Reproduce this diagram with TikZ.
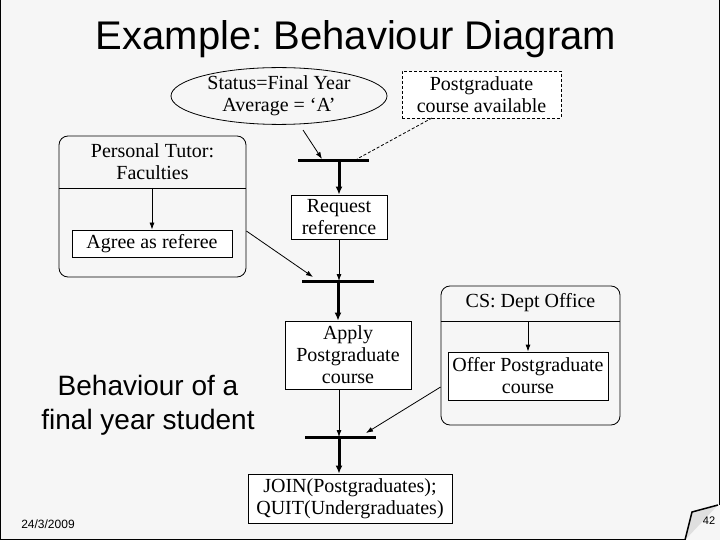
\documentclass[tikz,border=0pt]{standalone}
\usepackage{fontspec}
\setmainfont{Liberation Serif}
\setsansfont{Liberation Sans}
\usetikzlibrary{arrows.meta,shapes.geometric}
\frenchspacing

\begin{document}
\begin{tikzpicture}[x=1pt,y=-1pt,line width=0.8pt,
    txt/.style={align=center,inner sep=0pt,font=\fontsize{20}{22}\selectfont},
    box/.style={txt,draw,fill=white},
    lane/.style={draw,rounded corners=9pt,inner sep=0pt},
    bar/.style={line width=3pt},
    flow/.style={-{Latex[length=7pt,width=5pt]}},
    flowbold/.style={line width=3pt,-{Latex[length=8pt,width=7pt]}}]
    \useasboundingbox (0,0) rectangle (720,540);
    \fill[gray!7] (0,0) rectangle (720,540);

    \coordinate (b1w) at (298,161);
    \coordinate (b1e) at (369,161);
    \coordinate (b1a) at (322,159);
    \coordinate (b1d) at (357,159);
    \coordinate (b2w) at (302,281);
    \coordinate (b2e) at (374,281);
    \coordinate (b2a) at (313,277);
    \coordinate (b2o) at (338,281);
    \coordinate (b3w) at (305,437);
    \coordinate (b3e) at (376,437);
    \coordinate (b3a) at (366,433);
    \coordinate (b3o) at (339,437);
    \coordinate (s1) at (303,130);
    \coordinate (a1) at (432,118);
    \coordinate (tdiv) at (0,188);
    \coordinate (odiv) at (0,321);

    \node[font=\sffamily\fontsize{40}{44}\selectfont,anchor=base] (title) at (356,50) {Example: Behaviour Diagram};

    \node[txt,draw,ellipse,minimum width=216pt,minimum height=54pt] (status) at (279,96) {Status=Final Year\\Average = ‘A’};
    \node[box,dashed,dash pattern=on 3pt off 2pt,minimum width=159pt,minimum height=47pt] (avail) at (481.5,94.5) {Postgraduate\\course available};

    \node[lane,minimum width=187pt,minimum height=141pt] (tutor) at (152.5,206.5) {};
    \node[txt] (tutorname) at (152.5,162) {Personal Tutor:\\Faculties};
    \node[box,minimum width=160pt,minimum height=27pt] (agree) at (152,243.5) {Agree as referee};
    \draw (tutor.west |- tdiv) -- (tutor.east |- tdiv);

    \node[box,minimum width=96pt,minimum height=44pt] (request) at (339,217) {Request\\reference};
    \node[box,minimum width=126pt,minimum height=68pt] (apply) at (348,355) {Apply\\Postgraduate\\course};

    \node[lane,minimum width=179pt,minimum height=139pt] (office) at (530.5,355.5) {};
    \node[txt] (officename) at (530.5,303) {CS: Dept Office};
    \node[box,minimum width=160pt,minimum height=48pt] (offer) at (528,376) {Offer Postgraduate\\course};
    \draw (office.west |- odiv) -- (office.east |- odiv);

    \node[box,minimum width=204pt,minimum height=49pt] (join) at (350,498.5) {JOIN(Postgraduates);\\QUIT(Undergraduates)};

    \node[font=\sffamily\fontsize{28}{34}\selectfont,align=center] (caption) at (148,405) {Behaviour of a\\final year student};

    \draw[bar] (b1w) -- (b1e);
    \draw[bar] (b2w) -- (b2e);
    \draw[bar] (b3w) -- (b3e);

    \draw[flow] (s1) -- (b1a);
    \draw[dashed,dash pattern=on 3pt off 2pt] (a1) -- (b1d);
    \draw[flowbold] (request |- b1w) -- (request.north);
    \draw[flow] (request.south) -- (request |- b2w);
    \draw[flow] ([yshift=-24.5pt]tutor.east) -- (b2a);
    \draw[flow] (agree |- tdiv) -- (agree.north);
    \draw[flowbold] (b2o) -- (b2o |- apply.north);
    \draw[flow] (b3o |- apply.south) -- (b3o);
    \draw[flow] (offer |- odiv) -- (offer.north);
    \draw[flow] ([yshift=-31.5pt]office.west) -- (b3a);
    \draw[flowbold] (b3o) -- (b3o |- join.north);

    \node[font=\sffamily\fontsize{12}{14}\selectfont] (date) at (48,524) {24/3/2009};

    \draw (0.5,0) -- (0.5,539.5) -- (685,539.5);
    \draw (719.5,0) -- (719.5,505);
    \draw[fill=gray!25,line width=1.5pt] (685,540) -- (692,512) -- (718,505);
    \node[font=\sffamily\fontsize{11}{13}\selectfont] (page) at (709,521) {42};

\end{tikzpicture}
\end{document}
